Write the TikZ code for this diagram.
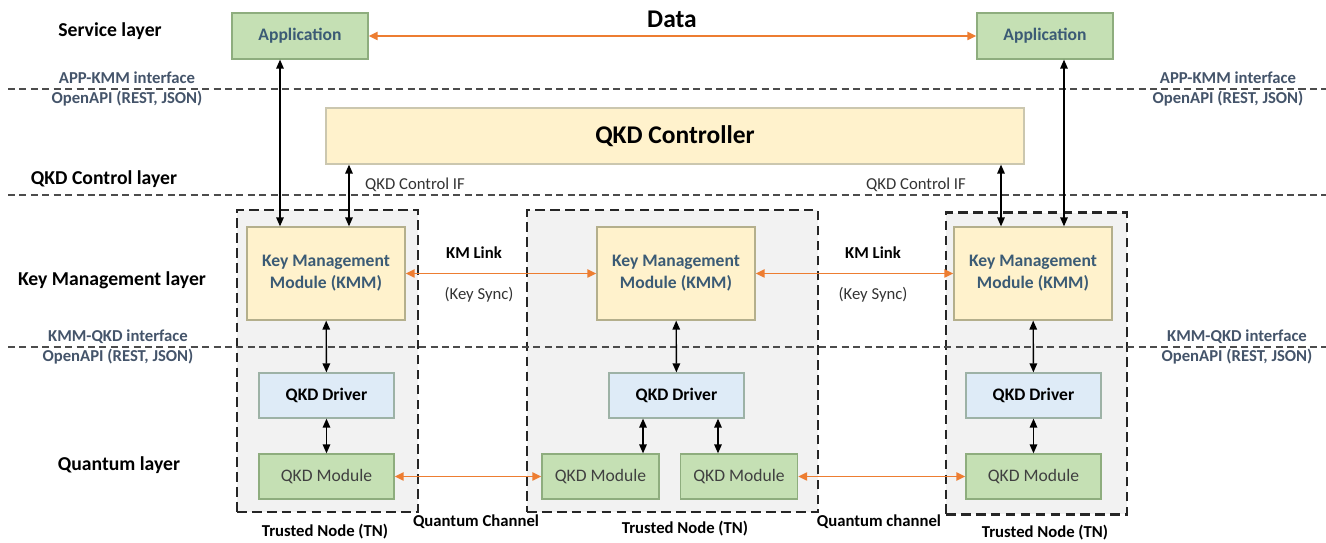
\documentclass[tikz,border=0pt]{standalone}
\usepackage{fontspec}
\setmainfont{Carlito}
\usepackage{tikz}
\usetikzlibrary{positioning}
\usetikzlibrary{arrows.meta}
\definecolor{appgreen}{HTML}{C5E0B4}
\definecolor{greenline}{HTML}{8EAD7E}
\definecolor{kmmyellow}{HTML}{FFF2CC}
\definecolor{kmmline}{HTML}{B4AF8C}
\definecolor{drvblue}{HTML}{DEEBF7}
\definecolor{drvline}{HTML}{9DB2A6}
\definecolor{tngray}{HTML}{F2F2F2}
\definecolor{slate}{HTML}{44546A}
\definecolor{boxtext}{HTML}{3B5B75}
\definecolor{linkorange}{HTML}{ED7D31}
\tikzset {
  % boxes inside the trusted nodes
  box/.style={draw, rectangle, line width=0.7pt, inner sep=0pt, align=center},
  app/.style={box, draw=greenline, fill=appgreen, text=boxtext, minimum width=2.72cm, minimum height=0.92cm, font=\fontsize{10}{12}\selectfont\bfseries},
  ctrl/.style={box, draw=kmmline!70, fill=kmmyellow, minimum width=13.96cm, minimum height=1.12cm, font=\fontsize{14.5}{17}\selectfont\bfseries},
  kmm/.style={box, draw=kmmline, fill=kmmyellow, text=boxtext, minimum width=3.16cm, minimum height=1.86cm, font=\fontsize{10}{12.5}\selectfont\bfseries},
  driver/.style={box, draw=drvline, fill=drvblue, minimum width=2.7cm, minimum height=0.9cm, font=\fontsize{10}{12}\selectfont\bfseries},
  module/.style={box, draw=greenline, fill=appgreen, text=black!75, minimum width=2.7cm, minimum height=0.9cm, font=\fontsize{10}{12}\selectfont},
  % trusted node frame
  tn/.style={draw=black!85, fill=tngray, line width=1.2pt, dash pattern=on 5.5pt off 3pt, minimum height=6.04cm},
  % texts
  layer/.style={font=\fontsize{11.2}{13}\selectfont\bfseries},
  iface/.style={text=slate, font=\fontsize{9.5}{11}\selectfont\bfseries},
  note/.style={font=\fontsize{9.5}{11}\selectfont, text=black!80},
  tag/.style={font=\fontsize{9.5}{11}\selectfont\bfseries},
  % connectors
  link/.style={{Triangle[length=1.8mm,width=1.5mm]}-{Triangle[length=1.8mm,width=1.5mm]}, line width=0.8pt},
  orange/.style={{Triangle[length=1.8mm,width=1.6mm]}-{Triangle[length=1.8mm,width=1.6mm]}, draw=linkorange, line width=1.1pt},
  layerline/.style={draw=black!70, line width=0.6pt, dash pattern=on 4pt off 2.5pt},
}
\begin{document}
\begin{tikzpicture}[x=0.02cm, y=-0.02cm]
  \useasboundingbox (0,0) rectangle (1326,543);

  \node[tn, minimum width=3.62cm] (tn1) at (327.5,361) {};
  \node[tn, minimum width=5.82cm] (tn2) at (672.5,361) {};
  \node[tn, minimum width=3.62cm] (tn3) at (1036.5,363.5) {};

  \draw[layerline] (8,89) -- (1326,89);
  \draw[layerline] (8,195) -- (1326,195);
  \draw[layerline] (8,347) -- (1326,347);

  \node[layer] (svc) at (110,31) {Service layer};
  \node[layer] (ctl) at (104,179) {QKD Control layer};
  \node[layer] (kml) at (112,280) {Key Management layer};
  \node[layer] (qul) at (119,465) {Quantum layer};

  \node[iface] (if1) at (127,78) {APP-KMM interface};
  \node[iface] (if2) at (127,99) {OpenAPI (REST, JSON)};
  \node[iface] (if3) at (1228,78) {APP-KMM interface};
  \node[iface] (if4) at (1228,99) {OpenAPI (REST, JSON)};
  \node[iface] (if5) at (118,337) {KMM-QKD interface};
  \node[iface] (if6) at (118,357) {OpenAPI (REST, JSON)};
  \node[iface] (if7) at (1237,337) {KMM-QKD interface};
  \node[iface] (if8) at (1237,357) {OpenAPI (REST, JSON)};

  \node[app] (app1) at (300,36) {Application};
  \node[app] (app2) at (1045,36) {Application};
  \node[font=\fontsize{14.5}{17}\selectfont\bfseries] (data) at (672,19) {Data};

  \node[ctrl] (ctrl) at (675,136) {QKD Controller};
  \node[note] (cif1) at (415,185) {QKD Control IF};
  \node[note] (cif2) at (916,185) {QKD Control IF};

  \node[kmm] (kmm1) at (326,273.5) {Key Management\\Module (KMM)};
  \node[kmm] (kmm2) at (676,273.5) {Key Management\\Module (KMM)};
  \node[kmm] (kmm3) at (1033,273.5) {Key Management\\Module (KMM)};

  \node[driver] (drv1) at (326.5,395.5) {QKD Driver};
  \node[driver] (drv2) at (676.5,395.5) {QKD Driver};
  \node[driver] (drv3) at (1033.5,395.5) {QKD Driver};

  \node[module] (mod1) at (326.5,476.5) {QKD Module};
  \node[module, minimum width=2.34cm] (mod2a) at (600.5,476.5) {QKD Module};
  \node[module, minimum width=2.34cm] (mod2b) at (739,476.5) {QKD Module};
  \node[module] (mod3) at (1033.5,476.5) {QKD Module};

  \node[tag] (kml1) at (474,253) {KM Link};
  \node[note] (ks1) at (479,295) {(Key Sync)};
  \node[tag] (kml2) at (873,253) {KM Link};
  \node[note] (ks2) at (873,295) {(Key Sync)};

  \node[tag] (tnl1) at (325,532) {Trusted Node (TN)};
  \node[tag] (tnl2) at (685,529) {Trusted Node (TN)};
  \node[tag] (tnl3) at (1045,533) {Trusted Node (TN)};
  \node[tag] (qc1) at (476,522) {Quantum Channel};
  \node[tag] (qc2) at (879,522) {Quantum channel};

  \draw [orange] (app1) -- (app2);
  \draw [orange] (kmm1) -- (kmm2);
  \draw [orange] (kmm2) -- (kmm3);
  \draw [orange] (mod1) -- (mod2a);
  \draw [orange] (mod2b) -- (mod3);

  \draw [link] ([xshift=-0.4cm]app1.south) -- ([xshift=-0.4cm]app1.south |- kmm1.north);
  \draw [link] ([xshift=0.46cm]kmm1.north) -- ([xshift=0.46cm]kmm1.north |- ctrl.south);
  \draw [link] ([xshift=0.38cm]app2.south) -- ([xshift=0.38cm]app2.south |- kmm3.north);
  \draw [link] ([xshift=-0.64cm]kmm3.north) -- ([xshift=-0.64cm]kmm3.north |- ctrl.south);

  \draw [link] (kmm1) -- (drv1);
  \draw [link] (kmm2) -- (drv2);
  \draw [link] (kmm3) -- (drv3);
  \draw [link] (drv1) -- (mod1);
  \draw [link] ([xshift=-0.67cm]drv2.south) -- ([xshift=-0.67cm]drv2.south |- mod2a.north);
  \draw [link] ([xshift=0.83cm]drv2.south) -- ([xshift=0.83cm]drv2.south |- mod2b.north);
  \draw [link] (drv3) -- (mod3);
\end{tikzpicture}
\end{document}
